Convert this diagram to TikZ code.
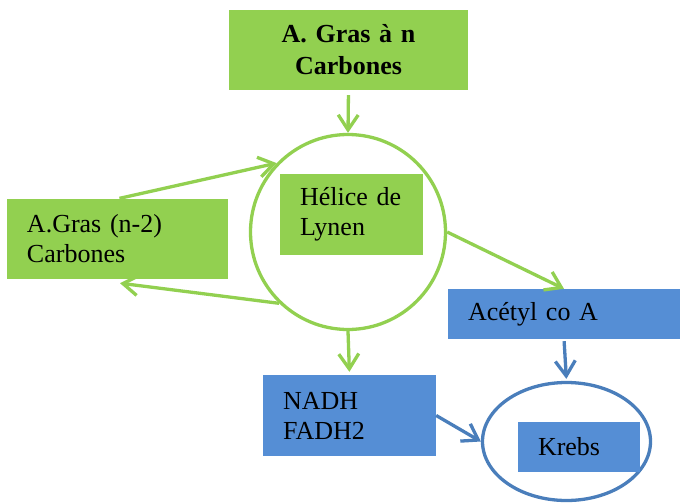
\documentclass[tikz,border=0pt]{standalone}
\usepackage{fontspec}
\setmainfont{Liberation Serif}
\usetikzlibrary{arrows.meta,shapes.geometric}
\definecolor{VertClair}{HTML}{92D050}
\definecolor{BleuBoite}{HTML}{558ED5}
\definecolor{BleuTrait}{HTML}{4A7EBB}
\tikzset{
  boite/.style={fill=#1, inner xsep=20pt, inner ysep=0pt, align=left,
    font=\fontsize{26}{30}\selectfont},
  fleche/.style={draw=#1, line width=3.3pt, -{Straight Barb[length=15pt,width=20pt]}},
}
\begin{document}
\begin{tikzpicture}[x=1pt,y=-1pt]
        \useasboundingbox (0,0) rectangle (680,503);
        %boites vertes : acide gras et helice
        \node[boite=VertClair, text width=199pt, minimum height=80pt, align=center,
              font=\bfseries\fontsize{26}{32}\selectfont] (GrasN) at (348.5,50) {A. Gras à n\\Carbones};
        \node[boite=VertClair, text width=181pt, minimum height=80pt] (GrasN2) at (117.5,239) {A.Gras (n-2)\\Carbones};
        \node[circle, draw=VertClair, line width=3.3pt, minimum size=195pt] (Lynen) at (348,232) {};
        \node[boite=VertClair, text width=103pt, minimum height=81pt] (Helice) at (351.5,214.5) {Hélice de\\Lynen};
        
        %boites bleues : produits et cycle de Krebs
        \node[boite=BleuBoite, text width=192pt, minimum height=50pt] (Acetyl) at (564,314) {Acétyl co A};
        \node[boite=BleuBoite, text width=133pt, minimum height=81pt] (Nadh) at (349.5,415.5) {NADH\\FADH2};
        \node[ellipse, draw=BleuTrait, line width=3.3pt, minimum width=168pt, minimum height=118pt] (Cycle) at (566.5,441.5) {};
        \node[boite=BleuBoite, text width=82pt, minimum height=50pt] (Krebs) at (579,447) {Krebs};
        
        \draw[fleche=VertClair, shorten <=5pt] (GrasN.south) -- (Lynen.north);
        \draw[fleche=VertClair, shorten <=2pt] (GrasN2.north) -- (Lynen.136);
        \draw[fleche=VertClair] (Lynen.226) -- ([xshift=2.5pt,yshift=-4pt]GrasN2.south);
        \draw[fleche=VertClair] (Lynen.east) -- (Acetyl.north);
        \draw[fleche=VertClair, shorten >=3pt] (Lynen.south) -- (Nadh.north);
        \draw[fleche=BleuTrait, shorten <=2pt, shorten >=2pt] (Acetyl.south) -- (Cycle.north);
        \draw[fleche=BleuTrait] (Nadh.east) -- (Cycle.west);
\end{tikzpicture}
\end{document}
